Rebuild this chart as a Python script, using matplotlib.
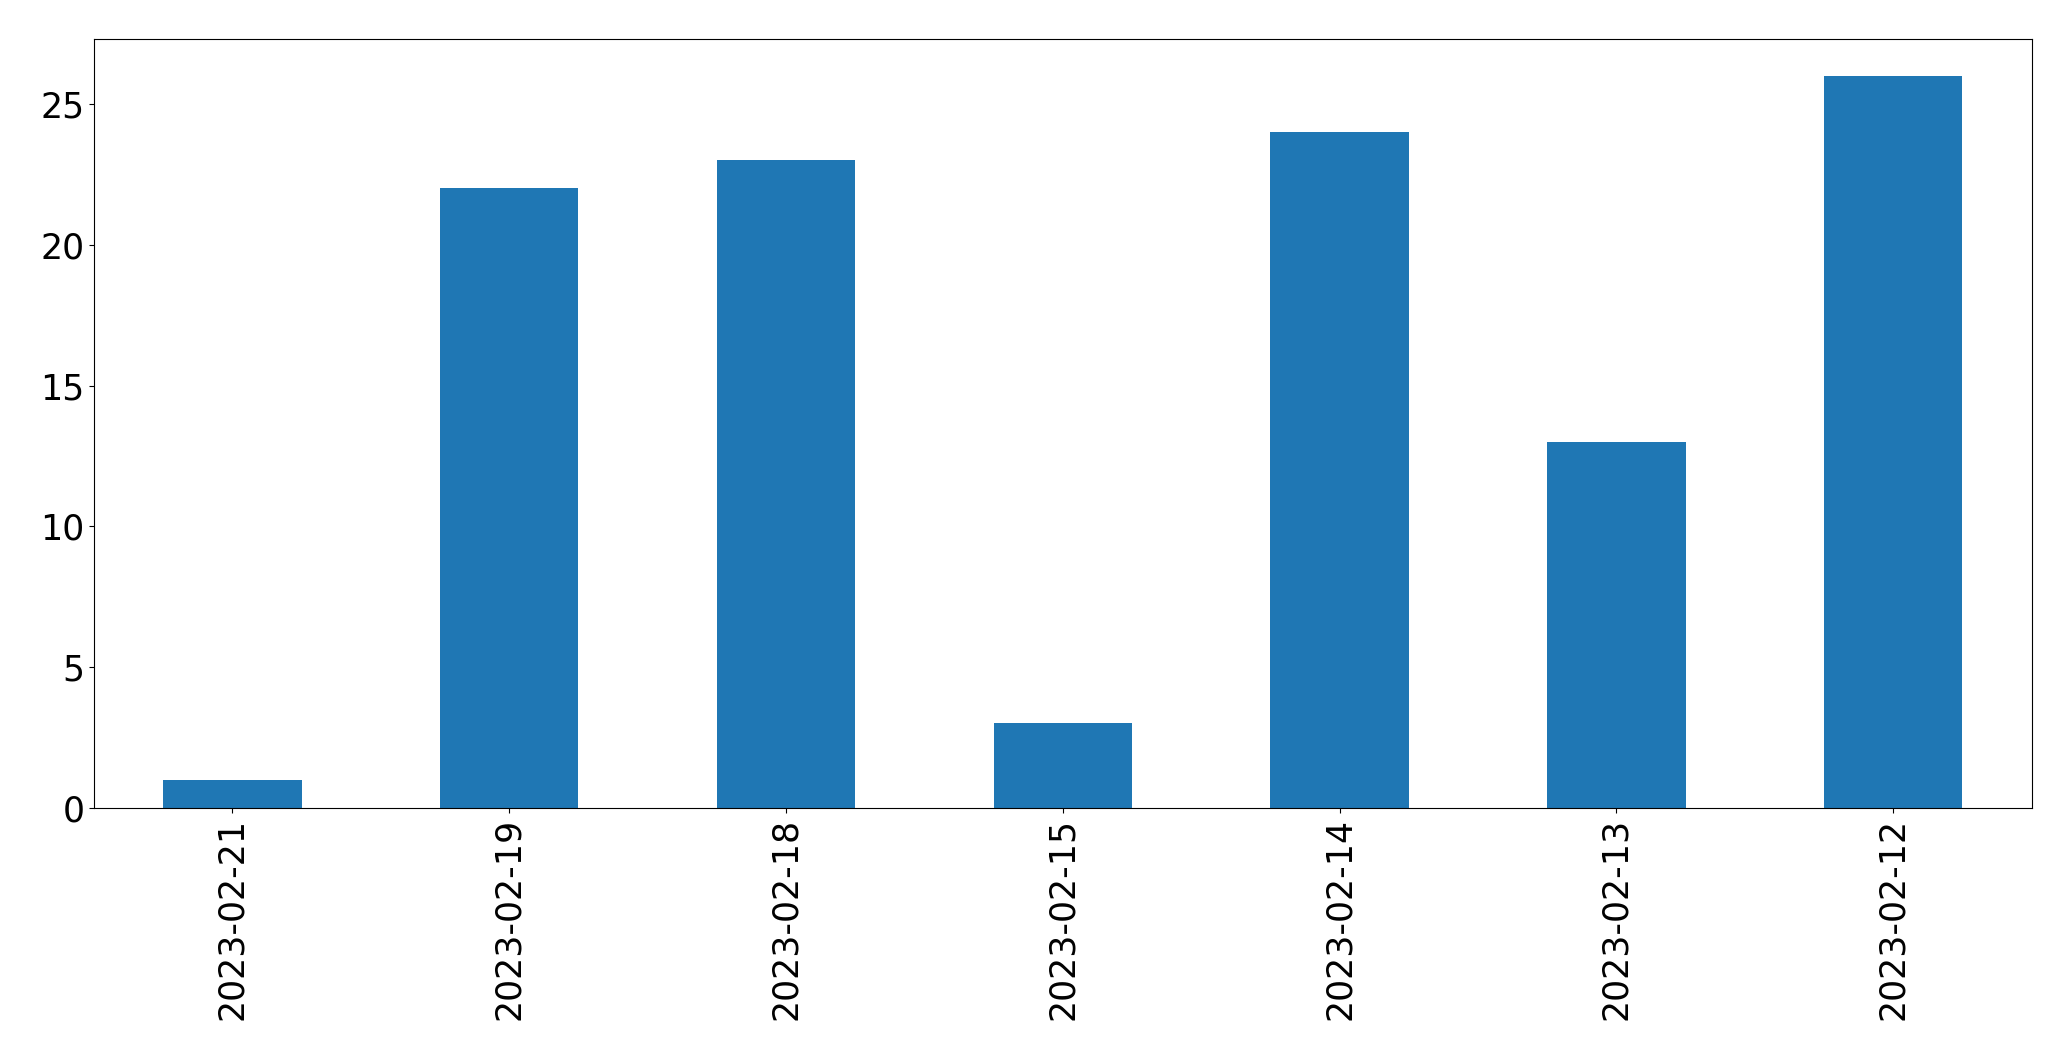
import matplotlib
matplotlib.use("Agg")
import matplotlib.pyplot as plt
import pandas as pd

dates = ["2023-02-21", "2023-02-19", "2023-02-18", "2023-02-15",
         "2023-02-14", "2023-02-13", "2023-02-12"]
counts = [1, 22, 23, 3, 24, 13, 26]

def draw():
    s = pd.Series(counts, index=dates)
    fig = plt.figure(figsize=(20.71, 10.61), dpi=100)
    ax = fig.add_subplot(111)
    s.plot(kind="bar", ax=ax, color="#1f77b4")
    ax.tick_params(axis="both", labelsize=25)
    fig.subplots_adjust(left=0.0454, right=0.981, top=0.963, bottom=0.2385)
    fig.savefig("out.png", dpi=100)

if __name__ == "__main__":
    draw()
